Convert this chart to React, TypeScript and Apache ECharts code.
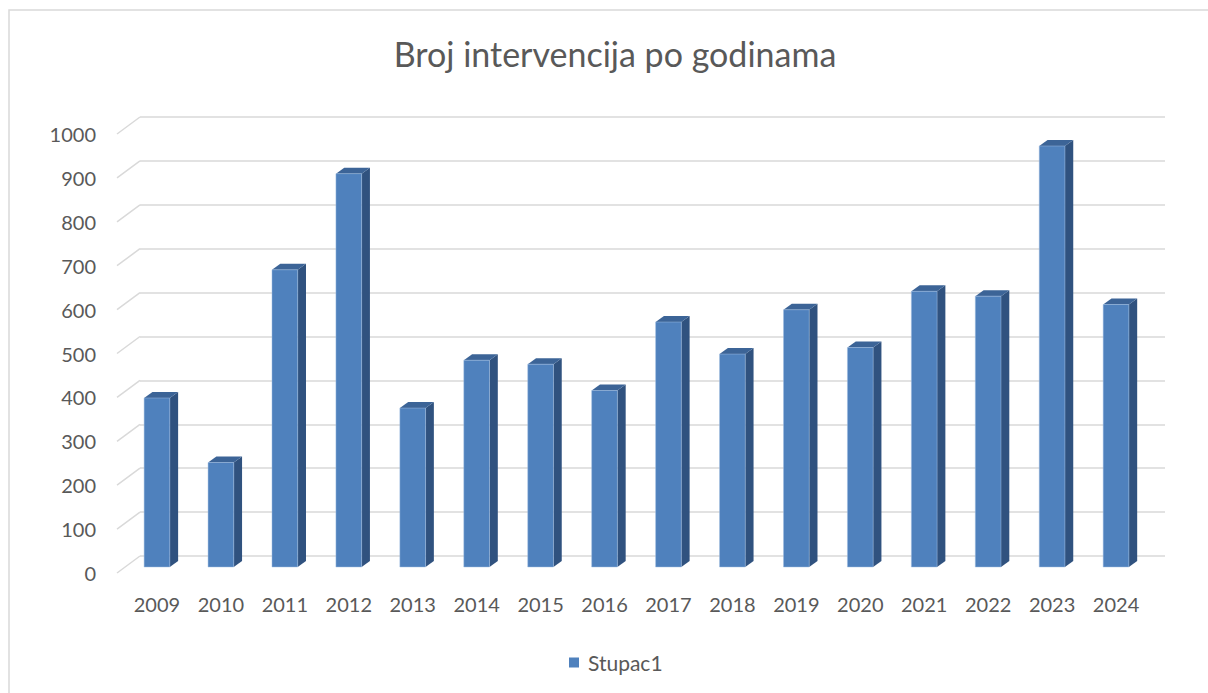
import React, { useEffect, useRef } from "react";
import * as echarts from "echarts";

const years = ["2009", "2010", "2011", "2012", "2013", "2014", "2015", "2016", "2017", "2018", "2019", "2020", "2021", "2022", "2023", "2024"];
const values = [385, 238, 677, 896, 362, 471, 462, 402, 558, 485, 586, 500, 628, 617, 959, 598];
const yTicks = [0, 100, 200, 300, 400, 500, 600, 700, 800, 900, 1000];

const FONT = "Lato, 'Open Sans', sans-serif";
const TXT = "#595959";
const GRIDC = "#d9d9d9";

export default function App() {
  const ref = useRef<HTMLDivElement>(null);
  useEffect(() => {
    if (!ref.current) return;
    const chart = echarts.init(ref.current, undefined, { renderer: "svg" });
    const option: any = {
      animation: false,
      backgroundColor: "#ffffff",
      title: {
        text: "Broj intervencija po godinama",
        left: 610,
        textAlign: "center",
        top: 31,
        textStyle: { fontFamily: FONT, fontSize: 34, fontWeight: "normal", color: TXT },
      },
      legend: {
        data: ["Stupac1"],
        icon: "rect",
        itemWidth: 10,
        itemHeight: 10,
        left: 564,
        top: 647,
        textStyle: { fontFamily: FONT, fontSize: 21, color: TXT, padding: [0, 0, 0, 4] },
      },
      graphic: [
        {
          type: "rect",
          shape: { x: 9, y: 10, width: 1300, height: 800 },
          style: { fill: "none", stroke: GRIDC, lineWidth: 1.5 },
          silent: true,
        },
      ],
      grid: [
        { left: 140, top: 117, width: 1025, height: 439 },
        { left: 117, top: 134, width: 1025, height: 439 },
        { left: 125, top: 128, width: 1023, height: 439 },
      ],
      xAxis: [
        { gridIndex: 0, type: "category", data: years, axisLine: { show: false }, axisTick: { show: false }, axisLabel: { show: false } },
        { gridIndex: 1, type: "value", min: 0, max: 1, show: false },
        {
          gridIndex: 2,
          type: "category",
          data: years,
          axisLine: { show: false },
          axisTick: { show: false },
          axisLabel: { margin: 27, color: TXT, fontSize: 20, fontFamily: FONT },
        },
      ],
      yAxis: [
        {
          gridIndex: 0,
          type: "value",
          min: 0,
          max: 1000,
          interval: 100,
          axisLine: { show: false },
          axisTick: { show: false },
          axisLabel: { show: false },
          splitLine: { show: true, lineStyle: { color: GRIDC, width: 1.5 } },
        },
        {
          gridIndex: 1,
          type: "value",
          min: 0,
          max: 1000,
          interval: 100,
          axisLine: { show: false },
          axisTick: { show: false },
          splitLine: { show: false },
          axisLabel: { margin: 21, color: TXT, fontSize: 20, fontFamily: FONT, formatter: (v: number) => String(v) },
        },
        { gridIndex: 2, type: "value", min: 0, max: 1000, show: false },
      ],
      series: [
        {
          type: "custom",
          name: "diag",
          xAxisIndex: 1,
          yAxisIndex: 1,
          silent: true,
          z: 1,
          data: yTicks.map((v) => [0, v]),
          renderItem: (params: any, api: any) => {
            const p = api.coord([0, api.value(1)]);
            return {
              type: "line",
              shape: { x1: p[0], y1: p[1], x2: p[0] + 23, y2: p[1] - 17 },
              style: { stroke: GRIDC, lineWidth: 1.5 },
            };
          },
        },
        {
          type: "custom",
          name: "Stupac1",
          xAxisIndex: 2,
          yAxisIndex: 2,
          z: 3,
          itemStyle: { color: "#4f81bd" },
          encode: { x: 0, y: 1 },
          data: values.map((v, i) => [i, v]),
          renderItem: (params: any, api: any) => {
            const i = api.value(0);
            const v = api.value(1);
            const top = api.coord([i, v]);
            const base = api.coord([i, 0]);
            const bw = api.size([1, 0])[0] * 0.402;
            const x0 = top[0] - bw / 2;
            const x1 = top[0] + bw / 2;
            const dx = 8.3;
            const dy = -6;
            return {
              type: "group",
              children: [
                {
                  type: "polygon",
                  shape: { points: [[x1, top[1]], [x1 + dx, top[1] + dy], [x1 + dx, base[1] + dy], [x1, base[1]]] },
                  style: { fill: "#30527f" },
                },
                {
                  type: "polygon",
                  shape: { points: [[x0, top[1]], [x0 + dx, top[1] + dy], [x1 + dx, top[1] + dy], [x1, top[1]]] },
                  style: { fill: "#3c6497" },
                },
                {
                  type: "rect",
                  shape: { x: x0, y: top[1], width: bw, height: base[1] - top[1] },
                  style: { fill: "#4f81bd", stroke: "rgba(160,190,225,0.6)", lineWidth: 0.8 },
                },
              ],
            };
          },
        },
      ],
    };
    chart.setOption(option);
    return () => chart.dispose();
  }, []);
  return <div ref={ref} style={{ position: "fixed", left: 0, top: 0, width: 1208, height: 693 }} />;
}
